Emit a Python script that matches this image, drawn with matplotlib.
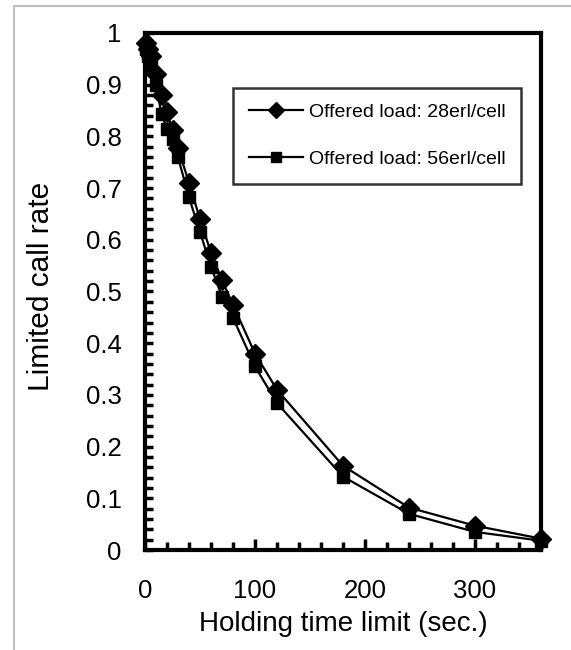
import numpy as np
import matplotlib
matplotlib.use("Agg")
import matplotlib.pyplot as plt
from matplotlib.ticker import MultipleLocator, FuncFormatter
from matplotlib.lines import Line2D

plt.rcParams['font.family'] = ['Liberation Sans', 'DejaVu Sans']

# holding time limit (sec.)
hold_time = [1, 3, 5, 10, 15, 20, 25, 30, 40, 50, 60, 70, 80, 100, 120, 180, 240, 300, 360]
# limited call rate, offered load 28erl/cell
rate_28 = [0.98, 0.97, 0.955, 0.92, 0.88, 0.847, 0.812, 0.778, 0.71, 0.64, 0.575,
           0.522, 0.474, 0.38, 0.31, 0.163, 0.082, 0.047, 0.022]
# limited call rate, offered load 56erl/cell
rate_56 = [0.97, 0.955, 0.935, 0.9, 0.843, 0.815, 0.795, 0.76, 0.682, 0.615, 0.548,
           0.49, 0.449, 0.355, 0.284, 0.142, 0.07, 0.035, 0.018]

labels = ["Offered load: 28erl/cell", "Offered load: 56erl/cell"]

fig = plt.figure(figsize=(5.71, 6.5), dpi=100)
ax = fig.add_axes([145/571, 100/650, 396/571, 517/650])

ax.plot(hold_time, rate_28, color='black', lw=1.6, marker='D', ms=10, label=labels[0],
        zorder=3, clip_on=False)
ax.plot(hold_time, rate_56, color='black', lw=1.6, marker='s', ms=8.5, label=labels[1],
        zorder=3, clip_on=False)

ax.set_xlim(0, 360)
ax.set_ylim(0, 1)

for s in ax.spines.values():
    s.set_linewidth(3)

ax.xaxis.set_major_locator(MultipleLocator(100))
ax.xaxis.set_minor_locator(MultipleLocator(20))
ax.yaxis.set_major_locator(MultipleLocator(0.1))
ax.yaxis.set_minor_locator(MultipleLocator(0.02))
ax.yaxis.set_major_formatter(FuncFormatter(lambda v, p: ('%.1f' % v).rstrip('0').rstrip('.') if v else '0'))

ax.tick_params(axis='both', which='both', direction='in', width=2.5, color='black',
               top=False, right=False)
ax.tick_params(axis='x', which='major', length=8, pad=21, labelsize=18.5)
ax.tick_params(axis='x', which='minor', length=6)
ax.tick_params(axis='y', which='major', length=6, pad=17, labelsize=18.5)
ax.tick_params(axis='y', which='minor', length=6)

ax.set_xlabel("Holding time limit (sec.)", fontsize=20)
ax.set_ylabel("Limited call rate", fontsize=21.5)
ax.xaxis.set_label_coords(0.5, -0.118)
ax.yaxis.set_label_coords(-0.228, 0.51)

# legend box
handles = [Line2D([], [], color='black', lw=1.6, marker='D', ms=8),
           Line2D([], [], color='black', lw=1.6, marker='s', ms=7)]
leg = ax.legend(handles, labels, loc='upper left', bbox_to_anchor=((233-145)/396, (550-88)/517),
                frameon=True, fancybox=False, fontsize=14, handlelength=2.8,
                labelspacing=1.5, borderpad=0.8, handletextpad=0.3, borderaxespad=0)
leg.get_frame().set_edgecolor('black')
leg.get_frame().set_linewidth(1.8)

# light grey outer frame
fig.add_artist(Line2D([14/571, 14/571], [0, 1 - 6/650], color='#c0c0c0', lw=1.5))
fig.add_artist(Line2D([14/571, 1], [1 - 6/650, 1 - 6/650], color='#c0c0c0', lw=1.5))

fig.savefig("out.png", dpi=100)
